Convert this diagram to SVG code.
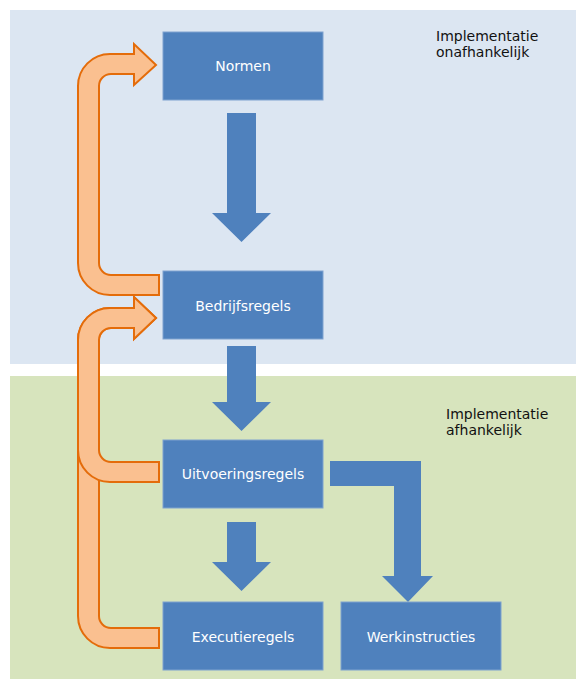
<svg xmlns="http://www.w3.org/2000/svg" width="576" height="680" viewBox="0 0 576 680">
  <style>
    .band-top { fill: #DCE6F2; }
    .band-bottom { fill: #D7E4BD; }
    .box { fill: #4F81BD; stroke: #7FA2CF; stroke-width: 1; }
    .box-label { fill: #FFFFFF; font-family: "DejaVu Sans", sans-serif; font-size: 14px; text-anchor: middle; }
    .zone-label { fill: #111111; font-family: "DejaVu Sans", sans-serif; font-size: 14px; }
    .flow { fill: #4F81BD; }
    .feedback { fill: #FAC090; stroke: #E46C0A; stroke-width: 2; stroke-linejoin: miter; }
  </style>

  <!-- background zones -->
  <rect class="band-top" x="10" y="10" width="566" height="354"/>
  <rect class="band-bottom" x="10" y="376" width="566" height="303"/>

  <text class="zone-label" x="436" y="41">Implementatie</text>
  <text class="zone-label" x="436" y="57">onafhankelijk</text>
  <text class="zone-label" x="446" y="419">Implementatie</text>
  <text class="zone-label" x="446" y="435">afhankelijk</text>

  <!-- connectors -->
  <g id="connectors">
    <!-- block arrows downwards -->
    <polygon class="flow" points="227,113 256,113 256,213 271,213 241.5,242 212,213 227,213"/>
    <polygon class="flow" points="227,346 256,346 256,402 271,402 241.5,431 212,402 227,402"/>
    <polygon class="flow" points="227,522 256,522 256,562 271,562 241.5,591 212,562 227,562"/>
    <polygon class="flow" points="330,461 421,461 421,576 433,576 408,602 382,576 394,576 394,486 330,486"/>

    <!-- feedback: Bedrijfsregels back to Normen -->
    <path class="feedback" d="M156,65 L134,44 L134,54 L110,54 A32,32 0 0 0 78,86 L78,263 A32,32 0 0 0 110,295 L159,295 L159,275 L111,275 A12,12 0 0 1 99,263 L99,86 A12,12 0 0 1 111,74 L134,74 L134,85 Z"/>

    <!-- feedback: Executieregels back to Bedrijfsregels -->
    <path class="feedback" d="M156,318 L134,297 L134,308 L110,308 A32,32 0 0 0 78,340 L78,616 A32,32 0 0 0 110,648 L159,648 L159,628 L111,628 A12,12 0 0 1 99,616 L99,340 A12,12 0 0 1 111,328 L134,328 L134,339 Z"/>

    <!-- feedback: Uitvoeringsregels back to Bedrijfsregels -->
    <path class="feedback" d="M156,318 L134,297 L134,308 L110,308 A32,32 0 0 0 78,340 L78,450 A32,32 0 0 0 110,482 L159,482 L159,462 L111,462 A12,12 0 0 1 99,450 L99,340 A12,12 0 0 1 111,328 L134,328 L134,339 Z"/>
  </g>

  <!-- nodes -->
  <g id="normen">
    <rect class="box" x="163" y="32" width="160" height="68"/>
    <text class="box-label" x="243" y="71">Normen</text>
  </g>
  <g id="bedrijfsregels">
    <rect class="box" x="163" y="271" width="160" height="68"/>
    <text class="box-label" x="243" y="311">Bedrijfsregels</text>
  </g>
  <g id="uitvoeringsregels">
    <rect class="box" x="163" y="440" width="160" height="68"/>
    <text class="box-label" x="243" y="479">Uitvoeringsregels</text>
  </g>
  <g id="executieregels">
    <rect class="box" x="163" y="602" width="160" height="68"/>
    <text class="box-label" x="243" y="642">Executieregels</text>
  </g>
  <g id="werkinstructies">
    <rect class="box" x="341" y="602" width="160" height="68"/>
    <text class="box-label" x="421" y="642">Werkinstructies</text>
  </g>
</svg>
